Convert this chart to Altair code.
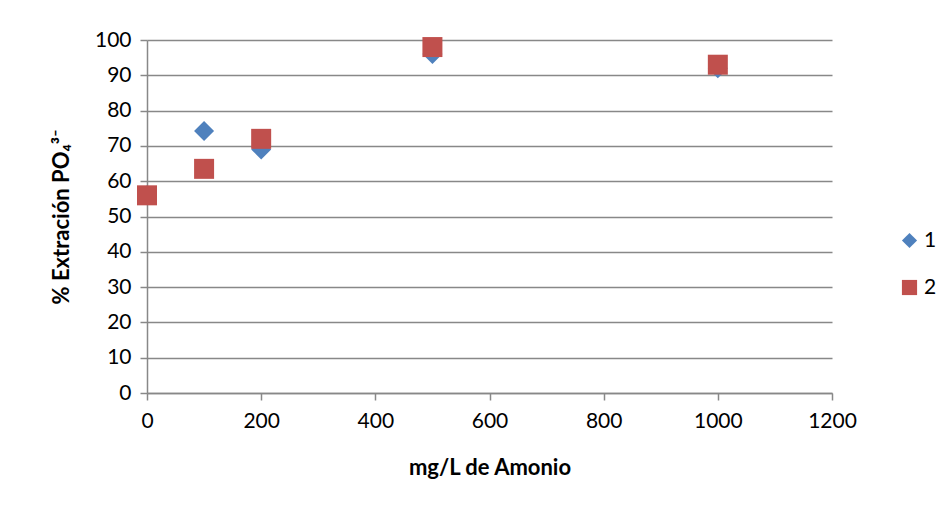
import altair as alt
import pandas as pd

conc = [0, 100, 200, 500, 1000]
serie1 = [56, 74.2, 69, 96, 92]
serie2 = [56, 63.5, 72, 98, 93]

df = pd.DataFrame({
    "x": conc * 2,
    "y": serie1 + serie2,
    "serie": ["1"] * 5 + ["2"] * 5,
})

FONT = "Lato"

leg = alt.Legend(title=None, orient="none", legendX=752, legendY=190,
                 symbolSize=230, labelFontSize=21, rowPadding=24,
                 labelFont=FONT, labelColor="#000000", symbolOpacity=1)

chart = alt.Chart(df).mark_point(filled=True, opacity=1, size=400).encode(
    x=alt.X("x:Q", scale=alt.Scale(domain=[0, 1200], nice=False),
            axis=alt.Axis(values=[0, 200, 400, 600, 800, 1000, 1200], grid=False,
                          format="d", labelFlush=False,
                          title="mg/L de Amonio", titlePadding=26,
                          labelPadding=10)),
    y=alt.Y("y:Q", scale=alt.Scale(domain=[0, 100], nice=False),
            axis=alt.Axis(values=list(range(0, 101, 10)), grid=True,
                          title="% Extración PO₄³⁻", titlePadding=21,
                          labelPadding=9)),
    shape=alt.Shape("serie:N", scale=alt.Scale(domain=["1", "2"], range=["diamond", "square"]),
                    legend=leg),
    color=alt.Color("serie:N", scale=alt.Scale(domain=["1", "2"], range=["#4F81BD", "#C0504D"]),
                    legend=leg),
    order=alt.Order("serie:N"),
).properties(
    width=685, height=353,
    autosize=alt.AutoSizeParams(type="none"),
    padding={"left": 139, "top": 32, "right": 110, "bottom": 100},
).configure_axis(
    labelFont=FONT, labelFontSize=21, labelColor="#000000",
    titleFont=FONT, titleFontSize=22, titleFontWeight="bold", titleColor="#000000",
    domainColor="#888888", tickColor="#888888", gridColor="#888888",
    domainWidth=1.5, gridWidth=1.5, tickWidth=1.5, tickSize=7,
).configure_view(stroke=None)

chart.save("out.html", embed_options={"renderer": "svg", "actions": False})
